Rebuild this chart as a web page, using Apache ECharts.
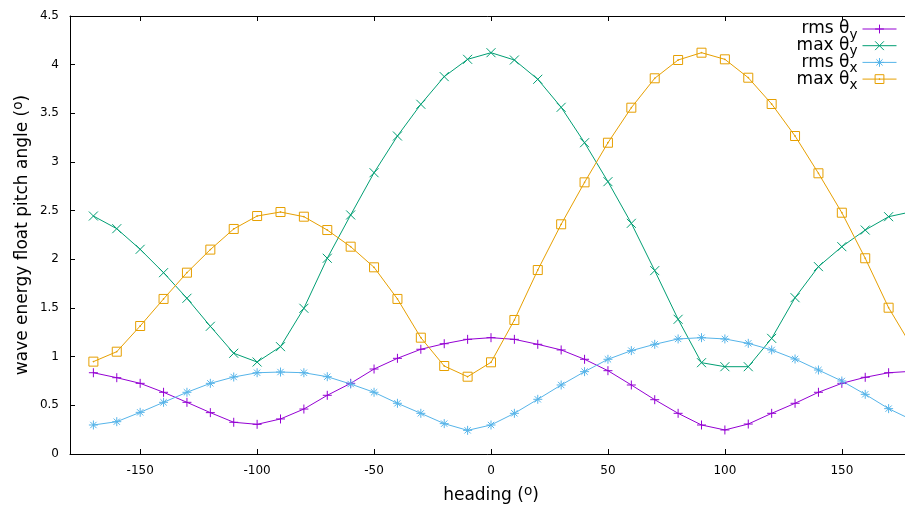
<!DOCTYPE html>
<html><head><meta charset="utf-8">
<script src="https://cdn.jsdelivr.net/npm/echarts@6/dist/echarts.min.js"></script>
<style>html,body{margin:0;padding:0;background:#fff}#c{width:905px;height:507px}</style>
</head><body><div id="c"></div>
<script>
const headings = [-170,-160,-150,-140,-130,-120,-110,-100,-90,-80,-70,-60,-50,-40,-30,-20,-10,0,10,20,30,40,50,60,70,80,90,100,110,120,130,140,150,160,170,180];
const rmsThetaY = [0.835,0.784,0.726,0.634,0.531,0.425,0.326,0.305,0.36,0.462,0.603,0.726,0.873,0.983,1.076,1.133,1.178,1.195,1.178,1.127,1.069,0.973,0.856,0.709,0.558,0.418,0.298,0.247,0.308,0.418,0.521,0.634,0.726,0.788,0.835,0.85];
const maxThetaY = [2.445,2.315,2.103,1.863,1.600,1.312,1.035,0.945,1.103,1.497,2.011,2.456,2.890,3.267,3.593,3.877,4.055,4.123,4.048,3.850,3.562,3.198,2.798,2.370,1.884,1.384,0.938,0.897,0.897,1.188,1.606,1.925,2.130,2.301,2.438,2.49];
const rmsThetaX = [0.298,0.332,0.428,0.531,0.634,0.726,0.791,0.835,0.842,0.835,0.794,0.719,0.634,0.521,0.418,0.312,0.243,0.298,0.418,0.562,0.709,0.846,0.973,1.062,1.127,1.182,1.195,1.182,1.137,1.069,0.976,0.863,0.750,0.613,0.466,0.35];
const maxThetaX = [0.949,1.051,1.315,1.593,1.863,2.10,2.312,2.445,2.486,2.438,2.301,2.130,1.918,1.593,1.195,0.904,0.794,0.942,1.377,1.890,2.360,2.791,3.198,3.558,3.860,4.048,4.123,4.055,3.866,3.596,3.267,2.884,2.479,2.011,1.503,1.10];
const seriesNames = ['rms θy','max θy','rms θx','max θx'];
const xTicks = [-150,-100,-50,0,50,100,150];
const yTicks = [0,0.5,1,1.5,2,2.5,3,3.5,4,4.5];
const xLabel = 'heading ({sup|o})';
const yLabel = 'wave energy float pitch angle ({sup|o})';

const colors = ['#9400d3','#009e73','#56b4e9','#e69f00'];
const symbols = [
  'path://M0,5L10,5M5,0L5,10',
  'path://M0,0L10,10M10,0L0,10',
  'path://M0,5L10,5M5,0L5,10M1.5,1.5L8.5,8.5M8.5,1.5L1.5,8.5',
  'path://M0,0L10,0L10,10L0,10ZM4.6,4.6L5.4,4.6L5.4,5.4L4.6,5.4Z'
];
const values = [rmsThetaY, maxThetaY, rmsThetaX, maxThetaX];
const FONT = 'DejaVu Sans';
const supRich = {sup: {fontSize: 13.6, fontFamily: FONT, lineHeight: 10, padding: [0, 0, 10, 0], color: '#000'}};

const chart = echarts.init(document.getElementById('c'), null, {renderer: 'canvas'});
const series = values.map((v, i) => ({
  name: seriesNames[i],
  type: 'line',
  data: headings.map((h, k) => [h, v[k]]),
  symbol: symbols[i],
  symbolSize: 9,
  showAllSymbol: true,
  animation: false,
  lineStyle: {color: colors[i], width: 1},
  itemStyle: {color: 'rgba(0,0,0,0)', borderColor: colors[i], borderWidth: 1},
  emphasis: {disabled: true},
  z: 2
}));

chart.setOption({
  animation: false,
  backgroundColor: '#fff',
  grid: {left: 70, right: -7, top: 16, bottom: 53, outerBoundsMode: 'none', containLabel: false},
  legend: {
    orient: 'vertical', align: 'right', right: 8, top: 16, padding: 0,
    itemWidth: 34, itemHeight: 11, itemGap: -9.3,
    selectedMode: false,
    data: seriesNames,
    formatter: n => n.replace(/θ([xy])$/, 'θ{sub|$1}'),
    lineStyle: {width: 1},
    itemStyle: {borderWidth: 1},
    textStyle: {fontFamily: FONT, fontSize: 17, color: '#000', lineHeight: 16,
      rich: {sub: {fontFamily: FONT, fontSize: 13.6, lineHeight: 4, padding: [12, 0, 0, 0], color: '#000'}}}
  },
  xAxis: [{
    type: 'value', min: -180, max: 180, position: 'bottom',
    name: xLabel, nameLocation: 'middle', nameGap: 33, nameMoveOverlap: false,
    nameTextStyle: {fontFamily: FONT, fontSize: 17, color: '#000', lineHeight: 18, rich: supRich},
    axisLine: {show: true, onZero: false, lineStyle: {color: '#000', width: 1}},
    axisTick: {show: true, inside: true, length: 5, customValues: xTicks, lineStyle: {color: '#000'}},
    axisLabel: {show: true, customValues: xTicks, margin: 11, fontFamily: FONT, fontSize: 12, color: '#000'},
    splitLine: {show: false}
  }, {
    type: 'value', min: -180, max: 180, position: 'top',
    axisLine: {show: true, onZero: false, lineStyle: {color: '#000', width: 1}},
    axisTick: {show: true, inside: true, length: 5, customValues: xTicks, lineStyle: {color: '#000', width: 1}},
    axisLabel: {show: true, customValues: xTicks, formatter: () => '', color: 'rgba(0,0,0,0)'},
    splitLine: {show: false}
  }],
  yAxis: {
    type: 'value', min: 0, max: 4.5, interval: 0.5,
    name: yLabel, nameLocation: 'middle', nameGap: 38, nameMoveOverlap: false,
    nameTextStyle: {fontFamily: FONT, fontSize: 17, color: '#000', lineHeight: 18, rich: supRich},
    axisLine: {show: true, onZero: false, lineStyle: {color: '#000', width: 1}},
    axisTick: {show: true, inside: true, length: 5, lineStyle: {color: '#000'}},
    axisLabel: {show: true, margin: 11, fontFamily: FONT, fontSize: 12, color: '#000'},
    splitLine: {show: false}
  },
  series: series
});
</script>
</body></html>
